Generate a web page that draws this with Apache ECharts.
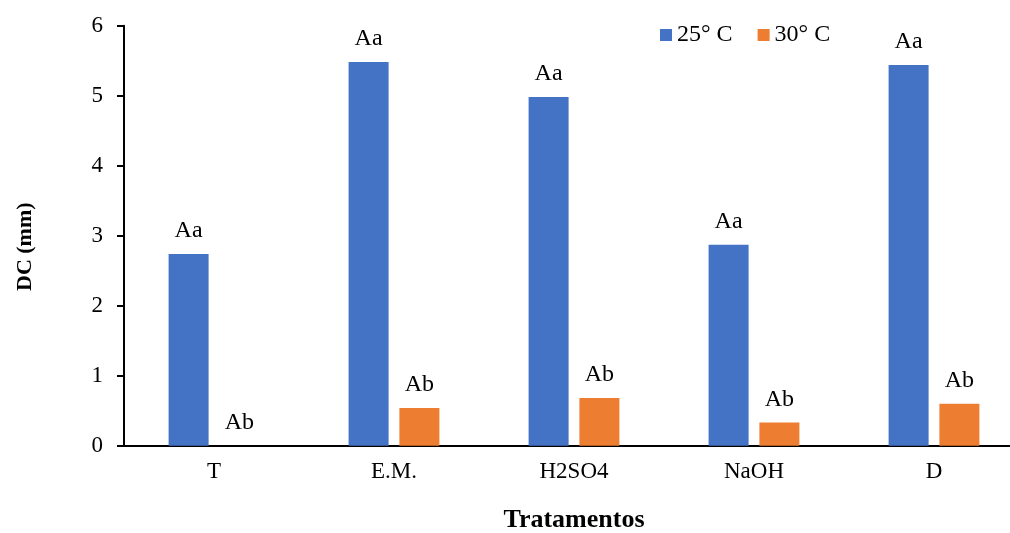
<!DOCTYPE html>
<html><head><meta charset="utf-8">
<script src="https://cdn.jsdelivr.net/npm/echarts@6/dist/echarts.min.js"></script>
<style>html,body{margin:0;padding:0;background:#fff}#c{width:1010px;height:533px}</style>
</head><body><div id="c"></div>
<script>
const categories = ['T', 'E.M.', 'H2SO4', 'NaOH', 'D'];
const seriesNames = ['25° C', '30° C'];
const values25 = [2.74, 5.48, 4.98, 2.87, 5.44];
const values30 = [0, 0.54, 0.68, 0.33, 0.60];
const labels25 = ['Aa', 'Aa', 'Aa', 'Aa', 'Aa'];
const labels30 = ['Ab', 'Ab', 'Ab', 'Ab', 'Ab'];
const yTicks = [0, 1, 2, 3, 4, 5, 6];

const font = '"Liberation Serif", "Times New Roman", serif';
const chart = echarts.init(document.getElementById('c'), null, {renderer: 'canvas'});
function mk(name, vals, labs, color) {
  return {
    name: name, type: 'bar', barWidth: 40, barGap: '27%',
    itemStyle: {color: color},
    data: vals,
    label: {show: true, position: 'top', distance: 11, color: '#000', fontFamily: font, fontSize: 24,
      formatter: p => labs[p.dataIndex]},
    emphasis: {disabled: true}
  };
}
chart.setOption({
  animation: false,
  textStyle: {fontFamily: font},
  legend: {
    left: 660, top: 23, padding: 0, itemWidth: 12, itemHeight: 12, itemGap: 25, icon: 'rect',
    textStyle: {fontFamily: font, fontSize: 24, color: '#000'},
    data: seriesNames
  },
  grid: {left: 124, right: -14, top: 25.7, bottom: 87.3, containLabel: false, outerBoundsMode: 'none'},
  xAxis: {
    type: 'category', data: categories,
    name: 'Tratamentos', nameLocation: 'middle', nameGap: 62,
    nameTextStyle: {fontFamily: font, fontSize: 26, fontWeight: 'bold', color: '#000'},
    axisLine: {lineStyle: {color: '#000', width: 2}},
    axisTick: {show: false},
    axisLabel: {color: '#000', fontFamily: font, fontSize: 23, margin: 15}
  },
  yAxis: {
    type: 'value', min: 0, max: 6, interval: 1,
    name: 'DC (mm)', nameLocation: 'middle', nameGap: 88, nameRotate: 90,
    nameTextStyle: {fontFamily: font, fontSize: 22, fontWeight: 'bold', color: '#000', padding: [0, 22, 0, 0]},
    axisLine: {show: true, lineStyle: {color: '#000', width: 2}},
    axisTick: {show: true, length: 7, lineStyle: {color: '#000', width: 2}},
    axisLabel: {color: '#000', fontFamily: font, fontSize: 23, margin: 21,
      formatter: v => yTicks.includes(v) ? String(v) : ''},
    splitLine: {show: false}
  },
  series: [mk(seriesNames[0], values25, labels25, '#4472C4'), mk(seriesNames[1], values30, labels30, '#ED7D31')]
});
</script></body></html>
